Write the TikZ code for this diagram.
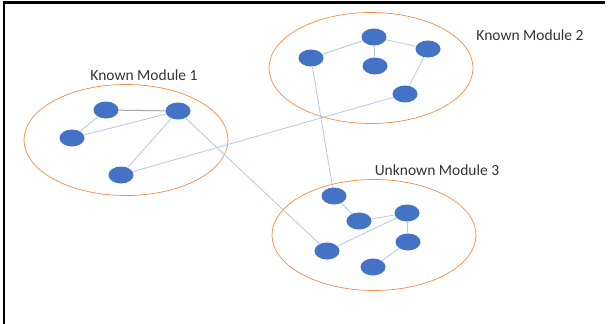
\documentclass[tikz,border=0pt]{standalone}
\usepackage{fontspec}
\setmainfont{Carlito}
\usetikzlibrary{shapes.geometric}
\definecolor{nodeblue}{RGB}{68,114,196}
\definecolor{ringorange}{RGB}{240,140,70}
\definecolor{linkblue}{RGB}{180,199,231}
\tikzset{%
  module/.style = {shape=ellipse, draw=ringorange, line width=0.7pt,%
                   minimum width=204pt, minimum height=111pt},%
  vertex/.style = {shape=ellipse, fill=nodeblue, inner sep=0pt,%
                   minimum width=25pt, minimum height=17pt},%
  link/.style   = {draw=linkblue, line width=0.8pt},%
  title/.style  = {font=\fontsize{15.5}{18}\selectfont, text=black!80}%
}

\begin{document}
\begin{tikzpicture}
[x=1pt,y=-1pt]
	\useasboundingbox (0,0) rectangle (611,324);
	\draw [line width=2.2pt] (4,324) -- (4,2.5) -- (605,2.5);
	% modules
	\node [module] (mod1) at (126,140) {};
	\node [module] (mod2) at (371,68) {};
	\node [module] (mod3) at (374,235) {};
	\node [title] (lab1) at (144,75) {Known Module 1};
	\node [title] (lab2) at (530,35) {Known Module 2};
	\node [title] (lab3) at (437,170) {Unknown Module 3};
	% module 1
	\node [vertex] (a1) at (106,110) {};
	\node [vertex] (a2) at (178,111) {};
	\node [vertex] (a3) at (72,138) {};
	\node [vertex] (a4) at (121,175) {};
	% module 2
	\node [vertex] (b1) at (311,58) {};
	\node [vertex] (b2) at (374,37) {};
	\node [vertex] (b3) at (375,66) {};
	\node [vertex] (b4) at (428,49) {};
	\node [vertex] (b5) at (405,94) {};
	% module 3
	\node [vertex] (c1) at (334,196) {};
	\node [vertex] (c2) at (359,221) {};
	\node [vertex] (c3) at (407,213) {};
	\node [vertex] (c4) at (408,242) {};
	\node [vertex] (c5) at (327,251) {};
	\node [vertex] (c6) at (373,267) {};
	\draw [draw=black!35, line width=1pt] (a1) -- (a2);
	\draw [link] (a1) -- (a3) (a3) -- (a2) (a2) -- (a4);
	\draw [link] (a4) -- (b5) (a2) -- (c5) (b1) -- (c1);
	\draw [link] (b1) -- (b2) (b2) -- (b3) (b2) -- (b4) (b4) -- (b5);
	\draw [link] (c1) -- (c2) (c2) -- (c3) (c3) -- (c4) (c3) -- (c5) (c4) -- (c6);
\end{tikzpicture}
\end{document}
